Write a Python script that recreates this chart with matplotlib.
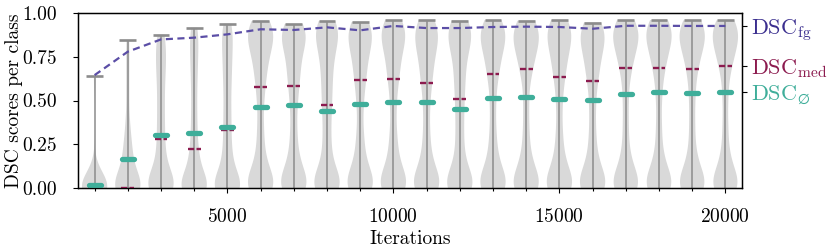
import numpy as np
import matplotlib
matplotlib.use("Agg")
import matplotlib.pyplot as plt

plt.rcParams['font.family'] = 'serif'
plt.rcParams['font.serif'] = ['cmr10']
plt.rcParams['mathtext.fontset'] = 'cm'
plt.rcParams['axes.formatter.use_mathtext'] = True

iterations = [1000, 2000, 3000, 4000, 5000, 6000, 7000, 8000, 9000, 10000,
              11000, 12000, 13000, 14000, 15000, 16000, 17000, 18000, 19000, 20000]

# per-class DSC scores at each evaluated iteration (shape of each violin)
class_scores = [
    [0, 0, 0, 0, 0, 0, 0, 0, 0, 0, 0, 0, 0, 0, 0.01, 0.02, 0.04, 0.06, 0.1, 0.64],
    [0, 0, 0, 0, 0, 0, 0, 0, 0.02, 0.05, 0.08, 0.12, 0.16, 0.2, 0.25, 0.3, 0.4, 0.55, 0.7, 0.846],
    [0, 0, 0, 0, 0, 0.02, 0.05, 0.08, 0.12, 0.18, 0.25, 0.32, 0.4, 0.48, 0.56, 0.64, 0.7, 0.76, 0.82, 0.876],
    [0, 0, 0, 0, 0, 0, 0.02, 0.05, 0.1, 0.15, 0.2, 0.27, 0.36, 0.45, 0.55, 0.64, 0.72, 0.79, 0.86, 0.916],
    [0, 0, 0, 0, 0, 0.02, 0.05, 0.1, 0.16, 0.22, 0.3, 0.38, 0.46, 0.55, 0.63, 0.7, 0.77, 0.83, 0.89, 0.939],
    [0, 0, 0, 0.02, 0.05, 0.09, 0.15, 0.24, 0.36, 0.5, 0.6, 0.67, 0.73, 0.78, 0.82, 0.85, 0.88, 0.9, 0.93, 0.954],
    [0, 0, 0, 0.02, 0.05, 0.09, 0.14, 0.22, 0.33, 0.46, 0.56, 0.63, 0.69, 0.75, 0.8, 0.84, 0.87, 0.89, 0.91, 0.937],
    [0, 0, 0, 0.02, 0.05, 0.09, 0.15, 0.24, 0.34, 0.44, 0.52, 0.6, 0.67, 0.74, 0.79, 0.84, 0.87, 0.9, 0.93, 0.954],
    [0, 0, 0, 0.02, 0.05, 0.09, 0.14, 0.22, 0.32, 0.46, 0.57, 0.64, 0.7, 0.76, 0.8, 0.84, 0.87, 0.9, 0.92, 0.949],
    [0, 0, 0, 0.02, 0.05, 0.09, 0.14, 0.22, 0.32, 0.46, 0.58, 0.65, 0.71, 0.77, 0.81, 0.85, 0.88, 0.9, 0.93, 0.958],
    [0, 0, 0, 0.02, 0.05, 0.09, 0.14, 0.22, 0.33, 0.46, 0.57, 0.64, 0.7, 0.76, 0.8, 0.84, 0.87, 0.9, 0.93, 0.96],
    [0, 0, 0, 0.02, 0.05, 0.09, 0.15, 0.24, 0.34, 0.44, 0.53, 0.61, 0.68, 0.75, 0.8, 0.84, 0.87, 0.9, 0.93, 0.956],
    [0, 0, 0, 0.02, 0.05, 0.09, 0.14, 0.22, 0.33, 0.47, 0.6, 0.67, 0.73, 0.78, 0.82, 0.85, 0.88, 0.9, 0.93, 0.96],
    [0, 0, 0, 0.02, 0.05, 0.09, 0.14, 0.22, 0.34, 0.48, 0.62, 0.69, 0.74, 0.79, 0.82, 0.85, 0.88, 0.9, 0.93, 0.956],
    [0, 0, 0, 0.02, 0.05, 0.09, 0.14, 0.22, 0.33, 0.47, 0.59, 0.66, 0.72, 0.77, 0.81, 0.85, 0.88, 0.9, 0.93, 0.96],
    [0, 0, 0, 0.02, 0.05, 0.09, 0.14, 0.22, 0.33, 0.46, 0.58, 0.65, 0.71, 0.76, 0.8, 0.84, 0.87, 0.89, 0.92, 0.945],
    [0, 0, 0, 0.02, 0.05, 0.09, 0.14, 0.23, 0.36, 0.5, 0.63, 0.7, 0.75, 0.8, 0.83, 0.86, 0.88, 0.91, 0.93, 0.958],
    [0, 0, 0, 0.02, 0.05, 0.09, 0.14, 0.23, 0.36, 0.51, 0.63, 0.7, 0.75, 0.8, 0.83, 0.86, 0.89, 0.91, 0.93, 0.96],
    [0, 0, 0, 0.02, 0.05, 0.09, 0.14, 0.23, 0.36, 0.5, 0.62, 0.7, 0.75, 0.8, 0.83, 0.86, 0.88, 0.91, 0.93, 0.958],
    [0, 0, 0, 0.02, 0.05, 0.09, 0.14, 0.23, 0.36, 0.51, 0.64, 0.71, 0.76, 0.8, 0.83, 0.86, 0.89, 0.91, 0.93, 0.958],
]

dsc_max = [0.64, 0.846, 0.876, 0.916, 0.939, 0.954, 0.937, 0.954, 0.949, 0.958,
           0.96, 0.956, 0.96, 0.956, 0.96, 0.945, 0.958, 0.96, 0.958, 0.958]
dsc_mean = [0.019, 0.168, 0.301, 0.312, 0.35, 0.463, 0.474, 0.442, 0.482, 0.49,
            0.493, 0.45, 0.512, 0.518, 0.51, 0.505, 0.537, 0.55, 0.545, 0.547]
dsc_median = [0.0, 0.002, 0.282, 0.225, 0.33, 0.575, 0.581, 0.472, 0.615, 0.621,
              0.602, 0.51, 0.653, 0.68, 0.632, 0.611, 0.684, 0.684, 0.678, 0.70]
dsc_fg = [0.645, 0.779, 0.849, 0.859, 0.878, 0.907, 0.903, 0.918, 0.901, 0.926,
          0.914, 0.914, 0.92, 0.922, 0.92, 0.91, 0.927, 0.927, 0.926, 0.926]

right_labels = [r'DSC$_{\mathrm{fg}}$', r'DSC$_{\mathrm{med}}$', r'DSC$_{\varnothing}$']

C_FG = '#5b4ea6'
C_FG_TXT = '#3b2f8f'
C_MED = '#8c1b4f'
C_MEAN = '#3fae9a'
C_GRAY = '#8c8c8c'
C_VIOLIN = '#d9d9d9'

BW = 0.08

fig = plt.figure(figsize=(8.3, 2.47), dpi=100)
ax = fig.add_axes([78 / 830, 1 - 188 / 247, (742 - 78) / 830, (188 - 13) / 247])

parts = ax.violinplot(class_scores, positions=iterations, widths=760,
                      showextrema=False, points=300,
                      bw_method=lambda k: BW / np.std(k.dataset, ddof=1))
for b in parts['bodies']:
    b.set_facecolor(C_VIOLIN)
    b.set_edgecolor('none')
    b.set_alpha(1.0)
    b.set_zorder(1)

x = np.array(iterations, dtype=float)
ax.vlines(x, 0, dsc_max, color=C_GRAY, lw=1.1, zorder=2)
ax.hlines(dsc_max, x - 255, x + 255, color=C_GRAY, lw=1.9, zorder=2)

ax.plot(x, dsc_fg, color=C_FG, lw=1.6, ls=(0, (3.2, 2.0)), zorder=3)

ax.hlines(dsc_median, x - 195, x + 195, color=C_MED, lw=1.7,
          linestyles=[(0, (2.6, 1.0))], zorder=4)
ax.hlines(dsc_mean, x - 180, x + 180, color=C_MEAN, lw=3.8,
          capstyle='round', zorder=5)

ax.set_xlim(500, 20500)
ax.set_ylim(0, 1.0)
ax.set_xticks([5000, 10000, 15000, 20000])
ax.set_xticks(iterations, minor=True)
ax.set_yticks([0, 0.25, 0.5, 0.75, 1.0])
ax.set_yticklabels(['0.00', '0.25', '0.50', '0.75', '1.00'])
ax.tick_params(axis='y', which='major', direction='out', length=3.5, width=0.8,
               labelsize=14, pad=12)
ax.tick_params(axis='x', which='major', direction='out', length=3.5, width=0.8,
               labelsize=14, pad=11)
ax.tick_params(axis='x', which='minor', direction='out', length=2, width=0.8)
ax.set_xlabel('Iterations', fontsize=14, labelpad=3)
ax.set_ylabel('DSC scores per class', fontsize=14, labelpad=-1)
for s in ax.spines.values():
    s.set_linewidth(1.0)

ax2 = ax.twinx()
ax2.set_ylim(0, 1.0)
ax2.set_yticks([dsc_fg[-1], dsc_median[-1], dsc_mean[-1]])
ax2.set_yticklabels(right_labels)
ax2.tick_params(axis='y', direction='out', length=3.5, width=0.8, labelsize=16, pad=3)
for lab, tk, c in zip(ax2.get_yticklabels(), ax2.yaxis.get_major_ticks(), [C_FG_TXT, C_MED, C_MEAN]):
    lab.set_color(c)
    tk.tick2line.set_color(c)

fig.savefig('out.png', dpi=100)
